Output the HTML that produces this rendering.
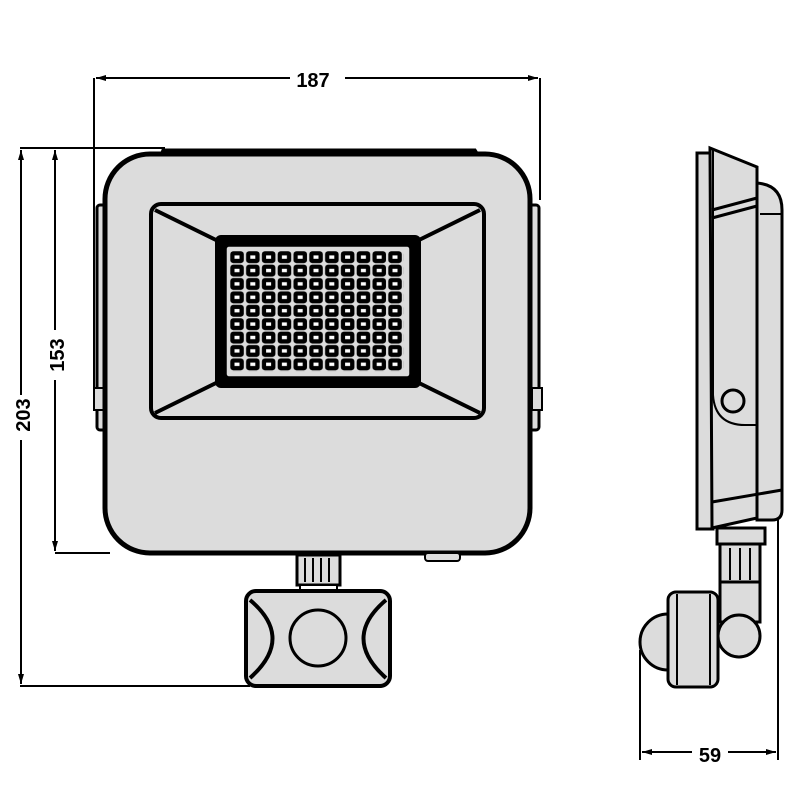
<!DOCTYPE html>
<html><head><style>body{margin:0;background:#fff}svg{display:block}</style></head><body>
<svg width="800" height="800" viewBox="0 0 800 800" xmlns="http://www.w3.org/2000/svg">
<defs>
<marker id="a" viewBox="0 0 10 6" refX="10" refY="3" markerWidth="10" markerHeight="6" orient="auto-start-reverse" markerUnits="userSpaceOnUse"><path d="M0,0 L10,3 L0,6 Z" fill="#000"/></marker>
<pattern id="led" patternUnits="userSpaceOnUse" x="230" y="251" width="15.8" height="13.4">
<rect x="0.3" y="0.3" width="13.5" height="11.8" rx="3" fill="#000"/>
<rect x="4.5" y="4.4" width="5" height="3.4" fill="#fff"/>
</pattern>
</defs>
<g stroke="#000" stroke-width="2" fill="none">
<line x1="94" y1="78" x2="94" y2="400"/>
<line x1="540" y1="78" x2="540" y2="200"/>
<line x1="96" y1="78" x2="290" y2="78" marker-start="url(#a)"/>
<line x1="345" y1="78" x2="538" y2="78" marker-end="url(#a)"/>
<line x1="20" y1="148" x2="165" y2="148"/>
<line x1="55" y1="553" x2="110" y2="553"/>
<line x1="20" y1="686" x2="250" y2="686"/>
<line x1="21" y1="150" x2="21" y2="395" marker-start="url(#a)"/>
<line x1="21" y1="440" x2="21" y2="684" marker-end="url(#a)"/>
<line x1="55" y1="150" x2="55" y2="330" marker-start="url(#a)"/>
<line x1="55" y1="380" x2="55" y2="551" marker-end="url(#a)"/>
<line x1="640" y1="650" x2="640" y2="760"/>
<line x1="778" y1="520" x2="778" y2="760"/>
<line x1="642" y1="752" x2="692" y2="752" marker-start="url(#a)"/>
<line x1="728" y1="752" x2="776" y2="752" marker-end="url(#a)"/>
</g>
<g font-family="Liberation Sans, sans-serif" font-weight="bold" font-size="20" fill="#000">
<text x="313" y="87" text-anchor="middle">187</text>
<text x="710" y="762" text-anchor="middle">59</text>
<text transform="translate(30,415) rotate(-90)" text-anchor="middle">203</text>
<text transform="translate(64,355) rotate(-90)" text-anchor="middle">153</text>
</g>
<g stroke="#000" stroke-width="3" fill="#dcdcdc">
<rect x="97" y="205" width="10" height="225" rx="3"/>
<rect x="528" y="205" width="11" height="225" rx="3"/>
<rect x="94" y="388" width="10" height="22" stroke-width="2"/>
<rect x="532" y="388" width="10" height="22" stroke-width="2"/>
<path d="M160,158 L163,150 L475,150 L480,158 Z"/>
<rect x="105" y="154" width="425" height="399" rx="45" stroke-width="5"/>
<rect x="425" y="553" width="35" height="8" rx="3" stroke-width="2"/>
<rect x="151" y="204" width="333" height="214" rx="10" stroke-width="4"/>
</g>
<g stroke="#000" stroke-width="4" fill="none">
<line x1="155" y1="210" x2="216" y2="240"/>
<line x1="480" y1="210" x2="419" y2="240"/>
<line x1="155" y1="413" x2="216" y2="383"/>
<line x1="480" y1="413" x2="419" y2="383"/>
</g>
<rect x="215" y="235" width="206" height="153" rx="6" fill="#000"/>
<rect x="226" y="246" width="184" height="131" rx="3" fill="#dcdcdc" stroke="#000" stroke-width="1.5"/>
<rect x="230" y="251" width="174" height="120.6" fill="url(#led)"/>
<g stroke="#000" stroke-width="3" fill="#dcdcdc">
<rect x="297" y="555" width="43" height="30"/>
<line x1="305" y1="558" x2="305" y2="582" stroke-width="2"/>
<line x1="313" y1="558" x2="313" y2="582" stroke-width="2"/>
<line x1="321" y1="558" x2="321" y2="582" stroke-width="2"/>
<line x1="329" y1="558" x2="329" y2="582" stroke-width="2"/>
<rect x="300" y="585" width="37" height="7" fill="#fff" stroke-width="2"/>
<rect x="246" y="591" width="144" height="95" rx="10" stroke-width="4"/>
<path d="M250,600 Q295,638 250,678" stroke-width="4" fill="none"/>
<path d="M386,600 Q341,638 386,678" stroke-width="4" fill="none"/>
<circle cx="318" cy="638" r="28" stroke-width="3"/>
</g>
<g stroke="#000" stroke-width="3" fill="#dcdcdc">
<rect x="697" y="153" width="16" height="376"/>
<path d="M757,183 Q782,185 782,210 L782,510 Q782,520 772,520 L757,520 Z"/>
<path d="M710,148 L757,167 L757,518 L712,528 Z"/>
<line x1="712" y1="210" x2="757" y2="198"/>
<line x1="712" y1="218" x2="757" y2="206"/>
<line x1="712" y1="502" x2="782" y2="490"/>
<line x1="760" y1="214" x2="782" y2="214" stroke-width="2"/>
<path d="M713,150 L713,395 Q715,425 745,425 L757,425" fill="none" stroke-width="2"/>
<circle cx="733" cy="401" r="11"/>
<rect x="717" y="528" width="48" height="16"/>
<rect x="720" y="544" width="40" height="38"/>
<line x1="730" y1="548" x2="730" y2="580" stroke-width="2"/>
<line x1="740" y1="548" x2="740" y2="580" stroke-width="2"/>
<line x1="750" y1="548" x2="750" y2="580" stroke-width="2"/>
<rect x="720" y="582" width="40" height="40"/>
<path d="M668,614 A28,28 0 0 0 668,670 Z"/>
<rect x="668" y="592" width="50" height="95" rx="8"/>
<line x1="677" y1="594" x2="677" y2="685" stroke-width="2"/>
<line x1="710" y1="594" x2="710" y2="685" stroke-width="2"/>
<circle cx="739" cy="636" r="21"/>
</g>
</svg>
</body></html>
